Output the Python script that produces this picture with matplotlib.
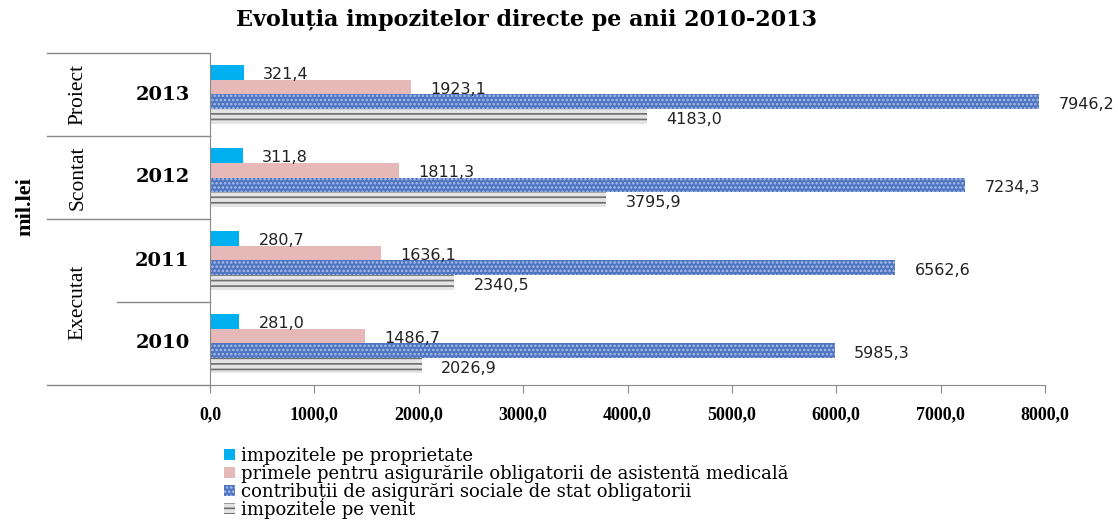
import matplotlib
matplotlib.use("Agg")
import matplotlib.pyplot as plt
import matplotlib.transforms as mtransforms
import numpy as np

years = ["2010", "2011", "2012", "2013"]
groups = [("Executat", 0.5), ("Scontat", 2.0), ("Proiect", 3.0)]
series_names = [
    "impozitele pe proprietate",
    "primele pentru asigurările obligatorii de asistentă medicală",
    "contribuții de asigurări sociale de stat obligatorii",
    "impozitele pe venit",
]
proprietate = [281.0, 280.7, 311.8, 321.4]
primele = [1486.7, 1636.1, 1811.3, 1923.1]
contributii = [5985.3, 6562.6, 7234.3, 7946.2]
venit = [2026.9, 2340.5, 3795.9, 4183.0]
xticks = [0, 1000, 2000, 3000, 4000, 5000, 6000, 7000, 8000]

plt.rcParams["hatch.linewidth"] = 1.2

fig = plt.figure(figsize=(11.18, 5.29), dpi=100)
ax = fig.add_axes([210/1118, 1-385/529, 835/1118, 332/529])

y = np.arange(len(years))
h = 0.18
offs = [0.27, 0.09, -0.09, -0.27]
styles = [
    dict(color="#00b0f0", lw=0),
    dict(facecolor="#e6b9b8", edgecolor="#e6b9b8", lw=0),
    dict(facecolor="#4f74c0", edgecolor="#a9c0ea", hatch="....", lw=0),
    dict(facecolor="#e4e4e4", edgecolor="#6e6e6e", hatch="---", lw=0),
]
data = [proprietate, primele, contributii, venit]
handles = []
for vals, off, st, name in zip(data, offs, styles, series_names):
    b = ax.barh(y + off, vals, height=h, label=name, **st)
    handles.append(b)
    for yi, v in zip(y, vals):
        ax.annotate(f"{v:.1f}".replace(".", ","), (v, yi + off),
                    xytext=(14, -2), textcoords="offset points",
                    va="center", ha="left", fontsize=11.5,
                    family="DejaVu Sans", color="#222222")

ax.set_xlim(0, 8000)
ax.set_ylim(-0.5, 3.5)
ax.set_xticks(xticks)
ax.set_xticklabels([f"{t:.1f}".replace(".", ",") for t in xticks])
ax.tick_params(axis="x", length=6, color="#888888", pad=9)
for lbl in ax.get_xticklabels():
    lbl.set_fontfamily("Liberation Serif")
    lbl.set_fontweight("bold")
    lbl.set_fontsize(13)
ax.set_yticks([])
for s in ["top", "right"]:
    ax.spines[s].set_visible(False)
for s in ["left", "bottom"]:
    ax.spines[s].set_color("#888888")

tr = mtransforms.blended_transform_factory(ax.transAxes, ax.transData)
for yy, x0 in [(3.5, -0.195), (2.5, -0.195), (1.5, -0.195), (0.5, -0.111), (-0.5, -0.195)]:
    ax.plot([x0, 0], [yy, yy], transform=tr, color="#888888", lw=1, clip_on=False)

for yi, yr in zip(y, years):
    ax.text(-0.057, yi, yr, transform=tr, ha="center", va="center",
            fontsize=14, fontweight="bold", family="DejaVu Serif")
for name, yc in groups:
    ax.text(-0.158, yc, name, transform=tr, ha="center", va="center",
            rotation=90, fontsize=15.5, family="Liberation Serif")

fig.text(25/1118, 1-207/529, "mil.lei", rotation=90, ha="center", va="center",
         fontsize=16, fontweight="bold", family="Liberation Serif")
fig.text(527/1118, 1-20/529, "Evoluția impozitelor directe pe anii 2010-2013",
         ha="center", va="center", fontsize=16, fontweight="bold",
         family="DejaVu Serif")

fig.legend(handles=handles, labels=series_names, loc="upper left",
           bbox_to_anchor=(224/1118, 1-447/529), frameon=False,
           prop=dict(family="DejaVu Serif", size=13),
           handlelength=0.6, handleheight=0.6, handletextpad=0.35,
           labelspacing=0.0, borderpad=0, borderaxespad=0)

fig.savefig("out.png", dpi=100)
